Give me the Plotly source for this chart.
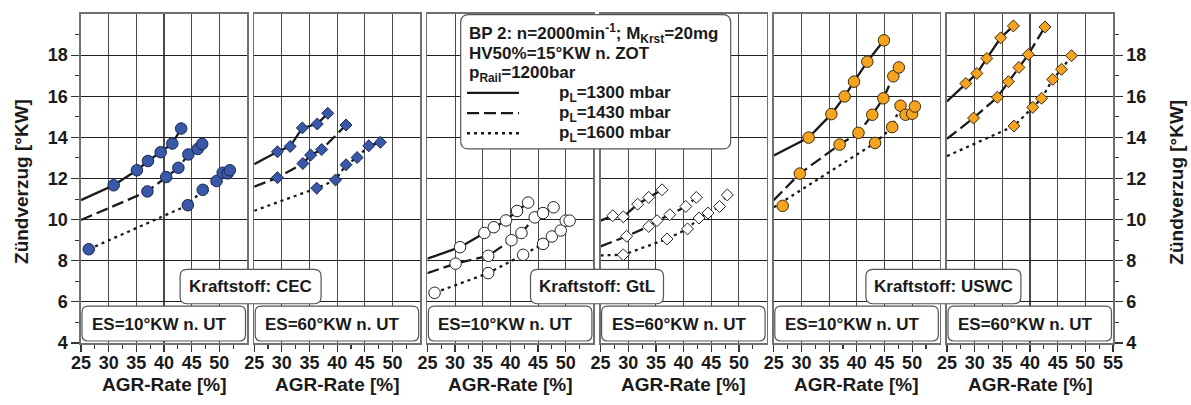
import plotly.graph_objects as go

# ---------------- data ----------------
x_tick_vals = [25, 30, 35, 40, 45, 50]
x_tick_vals_last = [25, 30, 35, 40, 45, 50, 55]
x_minor_vals = [27.5, 32.5, 37.5, 42.5, 47.5, 52.5]
y_tick_vals = [4, 6, 8, 10, 12, 14, 16, 18]
y_minor_vals = [5, 7, 9, 11, 13, 15, 17, 19]

panel_labels = ["ES=10°KW n. UT", "ES=60°KW n. UT", "ES=10°KW n. UT",
                "ES=60°KW n. UT", "ES=10°KW n. UT", "ES=60°KW n. UT"]
fuel_labels = ["Kraftstoff: CEC", "Kraftstoff: GtL", "Kraftstoff: USWC"]
pressure_labels = ["p<sub>L</sub>=1300 mbar", "p<sub>L</sub>=1430 mbar", "p<sub>L</sub>=1600 mbar"]
info_lines = ["BP 2: n=2000min<sup>-1</sup>; M<sub>Krst</sub>=20mg",
              "HV50%=15°KW n. ZOT",
              "p<sub>Rail</sub>=1200bar"]
x_title = "AGR-Rate [%]"
y_title = "Zündverzug [°KW]"

# Panel 1: CEC, ES=10
cec10_1300_x = [30.9, 35.1, 37.1, 39.4, 41.5, 43.1]
cec10_1300_y = [11.67, 12.40, 12.85, 13.28, 13.70, 14.43]
cec10_1300_fit_x = [25, 30.9, 35.1, 37.1, 39.4, 41.5, 43.1]
cec10_1300_fit_y = [10.95, 11.67, 12.40, 12.85, 13.28, 13.70, 14.43]
cec10_1430_x = [37.0, 40.4, 42.6, 44.4, 46.1, 46.9]
cec10_1430_y = [11.37, 12.07, 12.52, 13.17, 13.44, 13.68]
cec10_1430_fit_x = [25, 37.0, 40.4, 42.6, 44.4, 46.1, 46.9]
cec10_1430_fit_y = [9.98, 11.37, 12.07, 12.52, 13.17, 13.44, 13.68]
cec10_1600_x = [26.4, 44.3, 47.0, 49.5, 50.6, 51.5, 51.9]
cec10_1600_y = [8.56, 10.70, 11.45, 11.88, 12.28, 12.25, 12.40]
cec10_1600_fit_x = [26.4, 44.3, 47.0, 49.5, 51.0, 51.9]
cec10_1600_fit_y = [8.56, 10.70, 11.45, 11.88, 12.20, 12.40]

# Panel 2: CEC, ES=60
cec60_1300_x = [29.2, 31.5, 33.7, 36.4, 38.3]
cec60_1300_y = [13.30, 13.56, 14.46, 14.65, 15.17]
cec60_1300_fit_x = [25, 29.2, 31.5, 33.7, 36.4, 38.3]
cec60_1300_fit_y = [12.69, 13.30, 13.56, 14.46, 14.65, 15.17]
cec60_1430_x = [29.2, 33.8, 35.2, 37.2, 41.6]
cec60_1430_y = [12.04, 12.73, 13.14, 13.41, 14.60]
cec60_1430_fit_x = [25, 29.2, 33.8, 35.2, 37.2, 41.6]
cec60_1430_fit_y = [11.60, 12.04, 12.73, 13.14, 13.41, 14.60]
cec60_1600_x = [36.3, 39.7, 41.6, 43.6, 45.7, 47.8]
cec60_1600_y = [11.53, 11.93, 12.67, 13.02, 13.59, 13.76]
cec60_1600_fit_x = [25, 36.3, 39.7, 41.6, 43.6, 45.7, 47.8]
cec60_1600_fit_y = [10.43, 11.53, 11.93, 12.67, 13.02, 13.59, 13.76]

# Panel 3: GtL, ES=10
gtl10_1300_x = [30.9, 35.3, 37.0, 39.2, 41.2, 43.2]
gtl10_1300_y = [8.66, 9.35, 9.63, 9.96, 10.42, 10.83]
gtl10_1300_fit_x = [25, 30.9, 35.3, 37.0, 39.2, 41.2, 43.2]
gtl10_1300_fit_y = [8.10, 8.66, 9.35, 9.63, 9.96, 10.42, 10.83]
gtl10_1430_x = [30.1, 36.0, 40.2, 42.0, 44.4, 45.9, 47.8]
gtl10_1430_y = [7.86, 8.24, 9.00, 9.35, 10.11, 10.32, 10.60]
gtl10_1430_fit_x = [25, 30.1, 36.0, 40.2, 42.0, 44.4, 45.9, 47.8]
gtl10_1430_fit_y = [7.40, 7.86, 8.24, 9.00, 9.35, 10.11, 10.32, 10.60]
gtl10_1600_x = [26.3, 36.0, 42.3, 45.9, 47.5, 49.1, 50.0, 50.7]
gtl10_1600_y = [6.44, 7.40, 8.29, 8.82, 9.18, 9.47, 9.95, 9.95]
gtl10_1600_fit_x = [26.3, 36.0, 42.3, 45.9, 47.5, 49.1, 50.0]
gtl10_1600_fit_y = [6.44, 7.40, 8.29, 8.82, 9.18, 9.47, 9.95]

# Panel 4: GtL, ES=60
gtl60_1300_x = [27.2, 29.1, 31.7, 33.7, 36.1]
gtl60_1300_y = [10.19, 10.14, 10.75, 11.08, 11.45]
gtl60_1300_fit_x = [25, 27.2, 29.1, 31.7, 33.7, 36.1]
gtl60_1300_fit_y = [9.95, 10.19, 10.14, 10.75, 11.08, 11.45]
gtl60_1430_x = [29.7, 33.7, 35.2, 37.5, 40.4, 42.3]
gtl60_1430_y = [9.19, 9.67, 9.95, 10.24, 10.64, 11.08]
gtl60_1430_fit_x = [25, 29.7, 33.7, 35.2, 37.5, 40.4, 42.3]
gtl60_1430_fit_y = [8.70, 9.19, 9.67, 9.95, 10.24, 10.64, 11.08]
gtl60_1600_x = [29.1, 37.0, 40.7, 42.8, 44.4, 46.5, 47.9]
gtl60_1600_y = [8.29, 9.06, 9.55, 10.08, 10.32, 10.64, 11.20]
gtl60_1600_fit_x = [25, 29.1, 37.0, 40.7, 42.8, 44.4, 46.5, 47.9]
gtl60_1600_fit_y = [8.26, 8.29, 9.06, 9.55, 10.08, 10.32, 10.64, 11.20]

# Panel 5: USWC, ES=10
uswc10_1300_x = [31.3, 35.4, 37.8, 39.5, 41.9, 44.9]
uswc10_1300_y = [13.99, 15.13, 15.99, 16.71, 17.68, 18.72]
uswc10_1300_fit_x = [25, 31.3, 35.4, 37.8, 39.5, 41.9, 44.9]
uswc10_1300_fit_y = [13.12, 13.99, 15.13, 15.99, 16.71, 17.68, 18.72]
uswc10_1430_x = [29.7, 36.9, 40.3, 42.8, 44.8, 46.6, 47.6]
uswc10_1430_y = [12.24, 13.65, 14.22, 15.10, 15.90, 16.97, 17.40]
uswc10_1430_fit_x = [25, 29.7, 36.9, 40.3, 42.8, 44.8, 46.6, 47.6]
uswc10_1430_fit_y = [10.95, 12.24, 13.65, 14.22, 15.10, 15.90, 16.97, 17.40]
uswc10_1600_x = [26.6, 43.3, 46.4, 47.9, 48.8, 50.0, 50.5]
uswc10_1600_y = [10.67, 13.73, 14.50, 15.54, 15.10, 15.15, 15.50]
uswc10_1600_fit_x = [25, 43.3, 46.4, 47.9]
uswc10_1600_fit_y = [10.60, 13.73, 14.50, 15.54]

# Panel 6: USWC, ES=60
uswc60_1300_x = [28.4, 30.4, 32.2, 34.7, 37.0]
uswc60_1300_y = [16.62, 17.11, 17.84, 18.84, 19.42]
uswc60_1300_fit_x = [25, 28.4, 30.4, 32.2, 34.7, 37.0]
uswc60_1300_fit_y = [15.75, 16.62, 17.11, 17.84, 18.84, 19.42]
uswc60_1430_x = [29.8, 34.1, 36.1, 38.0, 39.7, 42.7]
uswc60_1430_y = [14.94, 15.95, 16.71, 17.40, 18.03, 19.37]
uswc60_1430_fit_x = [25, 29.8, 34.1, 36.1, 38.0, 39.7, 42.7]
uswc60_1430_fit_y = [13.93, 14.94, 15.95, 16.71, 17.40, 18.03, 19.37]
uswc60_1600_x = [37.1, 40.5, 42.1, 44.1, 45.7, 47.5]
uswc60_1600_y = [14.55, 15.46, 15.90, 16.82, 17.31, 17.97]
uswc60_1600_fit_x = [25, 37.1, 40.5, 42.1, 44.1, 45.7, 47.5]
uswc60_1600_fit_y = [13.09, 14.55, 15.46, 15.90, 16.82, 17.31, 17.97]

# ---------------- styling ----------------
W, H = 1191, 405
ML, MR, MT, MB = 81, 78, 12, 62
PW = W - ML - MR
PH = H - MT - MB
FONT = "Liberation Sans, Arial, sans-serif"
TXT = "#1a1a1a"
LINE_C = "#1a1a1a"
DASHES = ["solid", "12px,5px", "3px,4px"]

BLUE = dict(color="#3a58a8", line=dict(color="#172650", width=1))
WHITE = dict(color="#ffffff", line=dict(color="#222222", width=1))
ORANGE = dict(color="#f5a41f", line=dict(color="#3b2a0c", width=1))

panels = [
    dict(series=[(cec10_1300_x, cec10_1300_y, cec10_1300_fit_x, cec10_1300_fit_y),
                 (cec10_1430_x, cec10_1430_y, cec10_1430_fit_x, cec10_1430_fit_y),
                 (cec10_1600_x, cec10_1600_y, cec10_1600_fit_x, cec10_1600_fit_y)],
         symbol="circle", mk=BLUE),
    dict(series=[(cec60_1300_x, cec60_1300_y, cec60_1300_fit_x, cec60_1300_fit_y),
                 (cec60_1430_x, cec60_1430_y, cec60_1430_fit_x, cec60_1430_fit_y),
                 (cec60_1600_x, cec60_1600_y, cec60_1600_fit_x, cec60_1600_fit_y)],
         symbol="diamond", mk=BLUE),
    dict(series=[(gtl10_1300_x, gtl10_1300_y, gtl10_1300_fit_x, gtl10_1300_fit_y),
                 (gtl10_1430_x, gtl10_1430_y, gtl10_1430_fit_x, gtl10_1430_fit_y),
                 (gtl10_1600_x, gtl10_1600_y, gtl10_1600_fit_x, gtl10_1600_fit_y)],
         symbol="circle", mk=WHITE),
    dict(series=[(gtl60_1300_x, gtl60_1300_y, gtl60_1300_fit_x, gtl60_1300_fit_y),
                 (gtl60_1430_x, gtl60_1430_y, gtl60_1430_fit_x, gtl60_1430_fit_y),
                 (gtl60_1600_x, gtl60_1600_y, gtl60_1600_fit_x, gtl60_1600_fit_y)],
         symbol="diamond", mk=WHITE),
    dict(series=[(uswc10_1300_x, uswc10_1300_y, uswc10_1300_fit_x, uswc10_1300_fit_y),
                 (uswc10_1430_x, uswc10_1430_y, uswc10_1430_fit_x, uswc10_1430_fit_y),
                 (uswc10_1600_x, uswc10_1600_y, uswc10_1600_fit_x, uswc10_1600_fit_y)],
         symbol="circle", mk=ORANGE),
    dict(series=[(uswc60_1300_x, uswc60_1300_y, uswc60_1300_fit_x, uswc60_1300_fit_y),
                 (uswc60_1430_x, uswc60_1430_y, uswc60_1430_fit_x, uswc60_1430_fit_y),
                 (uswc60_1600_x, uswc60_1600_y, uswc60_1600_fit_x, uswc60_1600_fit_y)],
         symbol="diamond", mk=ORANGE),
]

STEP = 173.2     # px between panel lefts
PANEL_W = 166.0  # px panel width


def px2x(px):
    return (px - ML) / PW


def px2y(py):
    return (MT + PH - py) / PH


def rounded_box(x0, y0, x1, y1, r):
    """x/y in pixel coordinates of the page -> paper path with rounded corners"""
    X0, X1 = px2x(x0), px2x(x1)
    Y0, Y1 = px2y(y0), px2y(y1)  # Y0 is top (larger)
    rx, ry = r / PW, r / PH
    return (f"M {X0+rx},{Y0} L {X1-rx},{Y0} Q {X1},{Y0} {X1},{Y0-ry} "
            f"L {X1},{Y1+ry} Q {X1},{Y1} {X1-rx},{Y1} "
            f"L {X0+rx},{Y1} Q {X0},{Y1} {X0},{Y1+ry} "
            f"L {X0},{Y0-ry} Q {X0},{Y0} {X0+rx},{Y0} Z")


fig = go.Figure()
layout = dict(
    width=W, height=H,
    margin=dict(l=ML, r=MR, t=MT, b=MB, pad=0),
    paper_bgcolor="white", plot_bgcolor="white",
    showlegend=False,
    font=dict(family=FONT, color=TXT, size=17, weight="bold"),
)
shapes = []
annotations = []

for i, p in enumerate(panels):
    n = i + 1
    xa = "x" if n == 1 else f"x{n}"
    ya = "y" if n == 1 else f"y{n}"
    left = ML + i * STEP
    dom = [(left - ML) / PW, min(1.0, (left + PANEL_W - ML) / PW)]
    last = (i == len(panels) - 1)
    tv = x_tick_vals_last if last else x_tick_vals

    layout["xaxis" if n == 1 else f"xaxis{n}"] = dict(
        domain=dom, range=[25, 55], anchor=ya,
        tickvals=tv, ticktext=[str(v) for v in tv],
        ticks="outside", ticklen=7, tickwidth=1.2, tickcolor="#333",
        ticklabelstandoff=-4,
        tickfont=dict(family=FONT, size=18, color=TXT, weight="bold"),
        showgrid=True, gridcolor="#4a4a4a", gridwidth=1.1,
        showline=True, linecolor="#707070", linewidth=1.6, mirror=True,
        zeroline=False, fixedrange=True,
        minor=dict(tickvals=x_minor_vals, ticks="outside", ticklen=4,
                   tickcolor="#333", tickwidth=1.1, showgrid=False),
    )
    yax = dict(
        domain=[0, 1], range=[4, 20], anchor=xa,
        tickvals=y_tick_vals,
        showgrid=True, gridcolor="#1f1f1f", gridwidth=1.0,
        showline=True, linecolor="#707070", linewidth=1.6, mirror=True,
        zeroline=False, fixedrange=True,
    )
    if n == 1 or last:
        yax.update(
            side="right" if last else "left",
            ticks="outside", ticklen=8, tickwidth=1.2, tickcolor="#333",
            tickfont=dict(family=FONT, size=18, color=TXT, weight="bold"),
            showticklabels=True,
            minor=dict(tickvals=y_minor_vals, ticks="outside", ticklen=4,
                       tickcolor="#333", tickwidth=1.1, showgrid=False),
        )
    else:
        yax.update(showticklabels=False, ticks="")
    layout["yaxis" if n == 1 else f"yaxis{n}"] = yax

    # trend lines first, then markers
    for k, (sx, sy, fx, fy) in enumerate(p["series"]):
        fig.add_trace(go.Scatter(
            x=fx, y=fy, mode="lines", xaxis=xa, yaxis=ya, hoverinfo="skip",
            line=dict(color=LINE_C, width=2.3, dash=DASHES[k]),
        ))
    for k, (sx, sy, fx, fy) in enumerate(p["series"]):
        size = 11.5 if p["symbol"] == "circle" else 9.2
        fig.add_trace(go.Scatter(
            x=sx, y=sy, mode="markers", xaxis=xa, yaxis=ya, cliponaxis=False,
            marker=dict(symbol=p["symbol"], size=size, color=p["mk"]["color"],
                        line=p["mk"]["line"]),
        ))

    # ES label box
    shapes.append(dict(type="path", xref="paper", yref="paper", layer="above",
                       path=rounded_box(left + 1, 306, left + PANEL_W - 1.5, 341, 6),
                       fillcolor="white", line=dict(color="#555", width=1.2)))
    annotations.append(dict(xref="paper", yref="paper", x=px2x(left + 9), y=px2y(324),
                            xanchor="left", yanchor="middle", showarrow=False,
                            text=panel_labels[i],
                            font=dict(family=FONT, size=17, color=TXT, weight="bold")))
    # x axis title
    annotations.append(dict(xref="paper", yref="paper", x=px2x(left + PANEL_W / 2), y=px2y(385),
                            xanchor="center", yanchor="middle", showarrow=False,
                            text=x_title,
                            font=dict(family=FONT, size=19, color=TXT, weight="bold")))

# fuel label boxes, centred on the gap between the two panels of a fuel
fuel_box_w = [141, 133, 155]
for j, lab in enumerate(fuel_labels):
    cx = ML + (2 * j) * STEP + PANEL_W + (STEP - PANEL_W) / 2
    w = fuel_box_w[j]
    shapes.append(dict(type="path", xref="paper", yref="paper", layer="above",
                       path=rounded_box(cx - w / 2, 269, cx + w / 2, 303.5, 7),
                       fillcolor="white", line=dict(color="#555", width=1.2)))
    annotations.append(dict(xref="paper", yref="paper", x=px2x(cx), y=px2y(286.5),
                            xanchor="center", yanchor="middle", showarrow=False,
                            text=lab,
                            font=dict(family=FONT, size=17, color=TXT, weight="bold")))

# info / legend box
shapes.append(dict(type="path", xref="paper", yref="paper", layer="above",
                   path=rounded_box(460.7, 12.7, 730.7, 147.7, 8),
                   fillcolor="white", line=dict(color="#555", width=1.2)))
row_y = [31.5, 51.8, 72.1, 92.4, 112.7, 133.0]
for r, t in enumerate(info_lines):
    annotations.append(dict(xref="paper", yref="paper", x=px2x(466.5), y=px2y(row_y[r]),
                            xanchor="left", yanchor="middle", showarrow=False, text=t,
                            font=dict(family=FONT, size=17, color=TXT, weight="bold")))
for k, t in enumerate(pressure_labels):
    yy = px2y(row_y[3 + k] - 1)
    shapes.append(dict(type="line", xref="paper", yref="paper", layer="above",
                       x0=px2x(467), x1=px2x(519), y0=yy, y1=yy,
                       line=dict(color=LINE_C, width=2.3, dash=DASHES[k])))
    annotations.append(dict(xref="paper", yref="paper", x=px2x(556.5), y=px2y(row_y[3 + k]),
                            xanchor="left", yanchor="middle", showarrow=False, text=t,
                            font=dict(family=FONT, size=17, color=TXT, weight="bold")))

# y axis titles (left and right)
for xp in [22, 1176.7]:
    annotations.append(dict(xref="paper", yref="paper", x=px2x(xp), y=px2y(181),
                            xanchor="center", yanchor="middle", showarrow=False,
                            textangle=-90, text=y_title,
                            font=dict(family=FONT, size=19, color=TXT, weight="bold")))

layout["shapes"] = shapes
layout["annotations"] = annotations
fig.update_layout(**layout)
fig.write_html("out.html",
               config={"displayModeBar": False, "staticPlot": True},
               post_script="document.body.style.margin='0px';document.body.style.overflow='hidden';")
